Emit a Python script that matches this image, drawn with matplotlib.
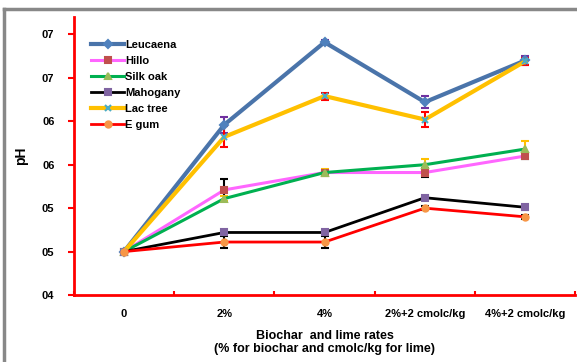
import numpy as np
import matplotlib
matplotlib.use("Agg")
import matplotlib.pyplot as plt
from matplotlib.lines import Line2D

plt.rcParams['font.family'] = ['Liberation Sans', 'DejaVu Sans']
plt.rcParams['font.weight'] = 'bold'

categories = ["0", "2%", "4%", "2%+2 cmolc/kg", "4%+2 cmolc/kg"]
ytick_vals = [4.0, 4.5, 5.0, 5.5, 6.0, 6.5, 7.0]
ytick_labels = ["04", "05", "05", "06", "06", "07", "07"]

leucaena = [4.50, 5.96, 6.91, 6.22, 6.70]
hillo = [4.50, 5.21, 5.41, 5.41, 5.60]
silk_oak = [4.50, 5.11, 5.41, 5.50, 5.68]
mahogany = [4.50, 4.72, 4.72, 5.12, 5.01]
lac_tree = [4.50, 5.82, 6.29, 6.02, 6.69]
e_gum = [4.50, 4.61, 4.61, 5.00, 4.90]

leucaena_err = [0.02, 0.09, 0.02, 0.07, 0.05]
hillo_err = [0.02, 0.13, 0.02, 0.05, 0.03]
silk_oak_err = [0.02, 0.03, 0.04, 0.07, 0.09]
mahogany_err = [0.02, 0.02, 0.02, 0.02, 0.03]
lac_tree_err = [0.02, 0.12, 0.04, 0.09, 0.04]
e_gum_err = [0.02, 0.07, 0.07, 0.02, 0.02]

series = [
    ("Leucaena", leucaena, leucaena_err, "#4A74AA", 3.0, "D", "#4F81BD", "#7030A0"),
    ("Hillo", hillo, hillo_err, "#FF66FF", 2.2, "s", "#C0504D", "black"),
    ("Silk oak", silk_oak, silk_oak_err, "#00B050", 2.2, "^", "#9BBB59", "#FFC000"),
    ("Mahogany", mahogany, mahogany_err, "black", 2.0, "s", "#8064A2", "#7030A0"),
    ("Lac tree", lac_tree, lac_tree_err, "#FFC000", 3.0, "x", "#4BACC6", "red"),
    ("E gum", e_gum, e_gum_err, "#FF0000", 2.0, "o", "#F79646", "black"),
]

fig = plt.figure(figsize=(5.77, 3.62), dpi=100)
ax = fig.add_axes([0.128, 0.185, 0.869, 0.768])

x = np.arange(len(categories))
for name, vals, err, lc, lw, mk, mc, ec in series:
    ax.errorbar(x, vals, yerr=err, fmt="none", ecolor=ec, elinewidth=1.5,
                capsize=3, capthick=1.5, zorder=2)
    ax.plot(x, vals, color=lc, lw=lw, marker=mk, markersize=4.5,
            markerfacecolor=mc, markeredgecolor=mc, markeredgewidth=1.5,
            label=name, zorder=3)

ax.set_xlim(-0.5, 4.5)
ax.set_ylim(4.0, 7.2)
ax.set_yticks(ytick_vals)
ax.set_yticklabels(ytick_labels, fontsize=8, fontweight="bold")
ax.set_xticks(x)
ax.set_xticklabels(categories, fontsize=8, fontweight="bold")
ax.set_xticks(np.arange(-0.5, 5, 1), minor=True)
ax.tick_params(axis="x", which="major", length=0, pad=10)
ax.tick_params(axis="x", which="minor", length=3, width=1.5, color="red", direction="in")
ax.tick_params(axis="y", length=4, width=1.5, color="red", pad=10)

for side in ["top", "right"]:
    ax.spines[side].set_visible(False)
for side in ["left", "bottom"]:
    ax.spines[side].set_color("red")
    ax.spines[side].set_linewidth(2)

ax.set_ylabel("pH", fontsize=10, fontweight="bold", labelpad=10)
ax.set_xlabel("Biochar  and lime rates\n(% for biochar and cmolc/kg for lime)",
              fontsize=9, fontweight="bold", labelpad=8, linespacing=1.15)

ax.legend(loc="upper left", bbox_to_anchor=(0.025, 0.935), frameon=False,
          fontsize=8, handlelength=3.0, handletextpad=0.1, labelspacing=0.55,
          borderaxespad=0)

# chart-area border (cropped at right and bottom)
bx, by = 4 / 577, 1 - 9 / 362
fig.add_artist(Line2D([bx, bx], [0, by], color="#888888", lw=2.5))
fig.add_artist(Line2D([bx, 1], [by, by], color="#888888", lw=2.5))

fig.savefig("out.png", dpi=100)
